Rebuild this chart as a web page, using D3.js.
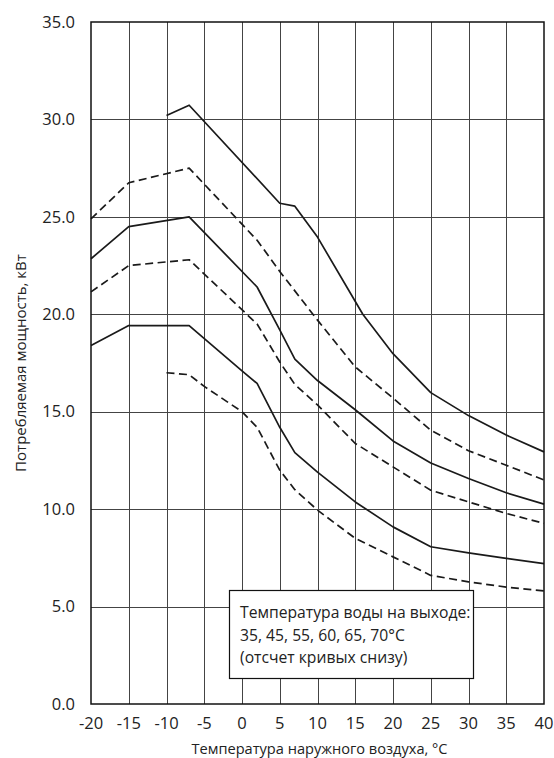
<!DOCTYPE html>
<html><head><meta charset="utf-8">
<script src="https://cdn.jsdelivr.net/npm/d3@7"></script>
<style>body{margin:0;background:#fff}svg{display:block}</style>
</head><body>
<svg id="c" width="554" height="758"></svg>
<script>
const xTicks = [-20,-15,-10,-5,0,5,10,15,20,25,30,35,40];
const yTicks = [0,5,10,15,20,25,30,35];

const t35 = [-10,-7,-5,0,2,5,7,10,15,20,25,30,35,40];
const v35 = [17.0,16.9,16.3,15.0,14.2,12.0,11.0,9.95,8.5,7.55,6.6,6.27,6.0,5.8];
const t45 = [-20,-15,-7,0,2,5,7,10,15,20,25,30,35,40];
const v45 = [18.4,19.42,19.42,17.1,16.45,14.2,12.9,11.9,10.37,9.09,8.07,7.76,7.47,7.2];
const t55 = [-20,-15,-7,2,5,7,10,15,20,25,30,35,40];
const v55 = [21.15,22.5,22.8,19.5,17.55,16.4,15.35,13.37,12.17,10.97,10.37,9.78,9.27];
const t60 = [-20,-15,-7,2,5,7,10,15,20,25,30,35,40];
const v60 = [22.85,24.5,25.0,21.4,19.2,17.7,16.6,15.1,13.5,12.37,11.57,10.84,10.26];
const t65 = [-20,-15,-7,2,5,10,15,20,25,30,35,40];
const v65 = [24.9,26.75,27.5,23.8,22.2,19.7,17.3,15.7,14.05,13.0,12.25,11.5];
const t70 = [-10,-7,5,7,10,16,20,25,30,35,40];
const v70 = [30.2,30.73,25.7,25.55,23.96,20.0,17.98,15.98,14.8,13.8,12.94];

const series = [
  {t:t35, v:v35, dashed:true},
  {t:t45, v:v45, dashed:false},
  {t:t55, v:v55, dashed:true},
  {t:t60, v:v60, dashed:false},
  {t:t65, v:v65, dashed:true},
  {t:t70, v:v70, dashed:false}
];
const legendLines = ["Температура воды на выходе:", "35, 45, 55, 60, 65, 70°C", "(отсчет кривых снизу)"];
const xTitle = "Температура наружного воздуха, °C";
const yTitle = "Потребляемая мощность, кВт";

const svg = d3.select("#c");
const x = d3.scaleLinear().domain([-20,40]).range([91,544]);
const y = d3.scaleLinear().domain([0,35]).range([704,22]);
const font = "'Open Sans', sans-serif";

// grid
svg.append("g").selectAll("line").data(xTicks.slice(1,-1)).join("line")
  .attr("x1",d=>Math.round(x(d))+0.5).attr("x2",d=>Math.round(x(d))+0.5)
  .attr("y1",y(35)).attr("y2",y(0))
  .attr("stroke","#444").attr("stroke-width",1);
svg.append("g").selectAll("line").data(yTicks.slice(1,-1)).join("line")
  .attr("y1",d=>Math.round(y(d))+0.5).attr("y2",d=>Math.round(y(d))+0.5)
  .attr("x1",x(-20)).attr("x2",x(40))
  .attr("stroke","#444").attr("stroke-width",1);

// curves
const line = d3.line().x(d=>x(d[0])).y(d=>y(d[1]));
svg.append("g").selectAll("path").data(series).join("path")
  .attr("d",s=>line(s.t.map((t,i)=>[t,s.v[i]])))
  .attr("fill","none").attr("stroke","#1a1a1a").attr("stroke-width",1.7)
  .attr("stroke-linejoin","round")
  .attr("stroke-dasharray",s=>s.dashed?"8,4.5":null);

// frame
svg.append("rect").attr("x",x(-20)).attr("y",y(35))
  .attr("width",x(40)-x(-20)).attr("height",y(0)-y(35))
  .attr("fill","none").attr("stroke","#111").attr("stroke-width",1.5);

// y labels
svg.append("g").selectAll("text").data(yTicks).join("text")
  .attr("x",75).attr("y",d=>y(d)).attr("dy","0.35em")
  .attr("text-anchor","end").attr("font-family",font).attr("font-size",16.5)
  .attr("fill","#222").text(d=>d.toFixed(1));
// x labels
svg.append("g").selectAll("text").data(xTicks).join("text")
  .attr("x",d=>x(d)).attr("y",723).attr("dy","0.35em")
  .attr("text-anchor","middle").attr("font-family",font).attr("font-size",16.5)
  .attr("fill","#222").text(d=>d);

svg.append("text").attr("x",(x(-20)+x(40))/2+2).attr("y",754)
  .attr("text-anchor","middle").attr("font-family",font).attr("font-size",14.6)
  .attr("fill","#222").text(xTitle);
svg.append("text").attr("transform",`translate(26,${(y(0)+y(35))/2}) rotate(-90)`)
  .attr("text-anchor","middle").attr("font-family",font).attr("font-size",15)
  .attr("fill","#222").text(yTitle);

// legend
const lg = svg.append("g");
lg.append("rect").attr("x",229.5).attr("y",590.5).attr("width",244).attr("height",88)
  .attr("fill","#fff").attr("stroke","#111").attr("stroke-width",1.2);
lg.selectAll("text").data(legendLines).join("text")
  .attr("x",240).attr("y",(d,i)=>618+i*22.5)
  .attr("font-family",font).attr("font-size",15.7).attr("fill","#222").text(d=>d);
</script>
</body></html>
